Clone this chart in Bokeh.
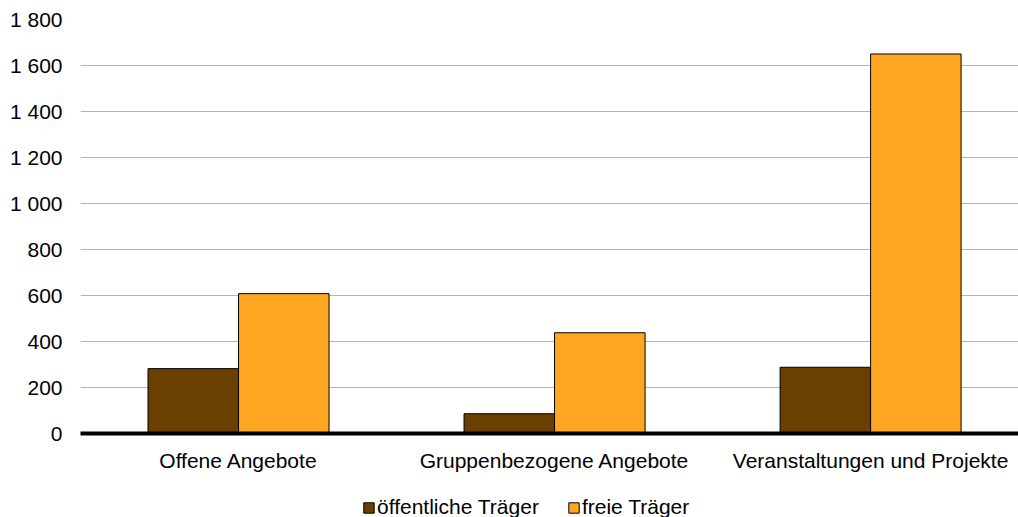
from bokeh.plotting import figure
from bokeh.models import ColumnDataSource, Range1d, FixedTicker, Legend, LegendItem
from bokeh.layouts import column
from bokeh.embed import file_html
from bokeh.resources import INLINE

categories = ["Offene Angebote", "Gruppenbezogene Angebote", "Veranstaltungen und Projekte"]
oeffentliche = [282, 86, 288]
freie = [608, 438, 1650]
series_names = ["öffentliche Träger", "freie Träger"]
colors = ["#6B3F00", "#FFA622"]
y_ticks = [0, 200, 400, 600, 800, 1000, 1200, 1400, 1600, 1800]
y_tick_labels = ["0", "200", "400", "600", "800", "1 000", "1 200", "1 400", "1 600", "1 800"]

FONT = "Liberation Sans"
W = 1018
H_MAIN = 478
H_LEG = 39
bar_w = 0.2864
centers = [i + 0.5 for i in range(len(categories))]

p = figure(width=W, height=H_MAIN, output_backend="svg", toolbar_location=None,
           x_range=Range1d(0, 2.968), y_range=Range1d(0, 1800),
           min_border_left=80, min_border_right=0, min_border_top=19, min_border_bottom=45)
p.outline_line_color = None
p.background_fill_color = "white"
p.border_fill_color = "white"

src1 = ColumnDataSource(dict(x=[c - bar_w / 2 for c in centers], top=oeffentliche))
src2 = ColumnDataSource(dict(x=[c + bar_w / 2 for c in centers], top=freie))
r1 = p.vbar(x="x", top="top", bottom=0, width=bar_w, source=src1,
            fill_color=colors[0], line_color="black", line_width=1)
r2 = p.vbar(x="x", top="top", bottom=0, width=bar_w, source=src2,
            fill_color=colors[1], line_color="black", line_width=1)

# grid
p.xgrid.grid_line_color = None
p.ygrid.grid_line_color = "#B4B4B4"
p.ygrid.grid_line_width = 1
p.ygrid.ticker = FixedTicker(ticks=y_ticks)

# y axis
p.yaxis.ticker = FixedTicker(ticks=y_ticks)
p.yaxis.major_label_overrides = {t: l for t, l in zip(y_ticks, y_tick_labels)}
p.yaxis.axis_line_color = None
p.yaxis.major_tick_line_color = None
p.yaxis.minor_tick_line_color = None
p.yaxis.major_tick_in = 0
p.yaxis.major_tick_out = 0
p.yaxis.major_label_standoff = 18
p.yaxis.major_label_text_font = FONT
p.yaxis.major_label_text_font_size = "21px"
p.yaxis.major_label_text_color = "black"

# x axis
p.xaxis.ticker = FixedTicker(ticks=centers)
p.xaxis.major_label_overrides = {c: l for c, l in zip(centers, categories)}
p.xaxis.axis_line_color = "black"
p.xaxis.axis_line_width = 4
p.xaxis.major_tick_line_color = None
p.xaxis.minor_tick_line_color = None
p.xaxis.major_tick_in = 0
p.xaxis.major_tick_out = 0
p.xaxis.major_label_standoff = 15
p.xaxis.major_label_text_font = FONT
p.xaxis.major_label_text_font_size = "21px"
p.xaxis.major_label_text_color = "black"

# legend strip below the chart (same series, drawn far outside its visible range)
lf = figure(width=W, height=H_LEG, output_backend="svg", toolbar_location=None,
            x_range=Range1d(100, 101), y_range=Range1d(100000, 100001),
            x_axis_type=None, y_axis_type=None,
            min_border_left=0, min_border_right=0, min_border_top=0, min_border_bottom=0)
lf.outline_line_color = None
lf.background_fill_color = "white"
lf.border_fill_color = "white"
lf.xgrid.visible = False
lf.ygrid.visible = False
l1 = lf.vbar(x="x", top="top", bottom=0, width=bar_w, source=src1,
             fill_color=colors[0], line_color="black", line_width=1)
l2 = lf.vbar(x="x", top="top", bottom=0, width=bar_w, source=src2,
             fill_color=colors[1], line_color="black", line_width=1)
legend = Legend(items=[LegendItem(label=series_names[0], renderers=[l1]),
                       LegendItem(label=series_names[1], renderers=[l2])],
                orientation="horizontal", location=(282, -2),
                glyph_width=13, glyph_height=13, label_standoff=2, spacing=28,
                padding=0, margin=0, border_line_color=None, background_fill_alpha=0,
                label_text_font=FONT, label_text_font_size="21px", label_text_color="black",
                label_height=21)
lf.add_layout(legend, "center")

layout = column(p, lf, spacing=0)
open("out.html", "w").write(file_html(layout, INLINE))
